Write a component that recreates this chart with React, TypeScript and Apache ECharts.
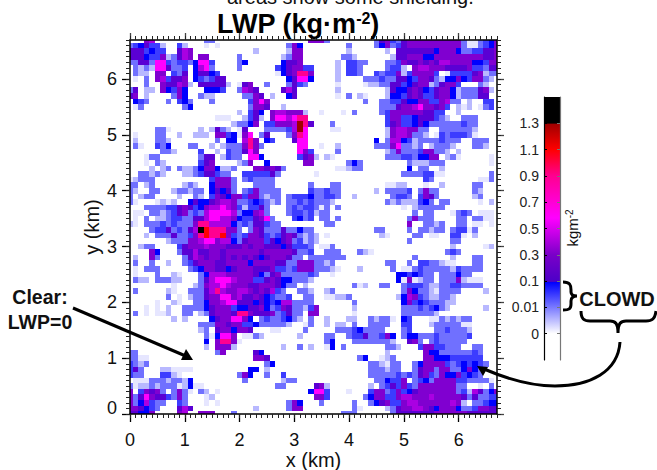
import React, { useEffect, useRef } from "react";
import * as echarts from "echarts";

const FONT = '"Liberation Sans", Arial, sans-serif';

// Cell levels, one letter per 0.1 km, rows from y = 6.7 km (top) to y = 0 km (bottom).
const levelKeys = ".abcdefghijklm";
const levelColors = ["#ffffff","#e6e6ff","#b8b8ff","#7070ff","#3c3cff","#0000ff","#5a00d4","#8000d0","#aa00e2","#ff00ff","#ff0090","#ff0000","#a00000","#000000"];
const rows = [
"...gh..... ....cc.... .......... ...gggc... .....cfgdc fggggggggg gcaacdeg",
"cdefddb..d b...a.a... .........c ge........ c....cegcd fggggggggg gcaacdeg",
"fffdedd..f hg........ ...b.....b gg........ b......b.f ffffffeggg eccddffg",
"fffeddgbcf hg.gg..... c.......bc gg.......c cb......bf fgggeegggg gggggffg",
"ccffciidcd dceiid.... ce......ef fg......b. ddcc...ccd gffgfgfhhg gggeedgg",
".cbcbiifcc d.ehic.... c......def ggdd....b. ddc....cdd b.ghhgggff ffgddcff",
".cbb.gg.dc f.effed... .......aef gjjg....b. ddc..dcddg bdggggd.ad dddfgbcc",
".a.c.ghdff g.edcdff.. .........e fiie....b. ...cccdccf fedggfcbee gedggcb.",
"...c..gffh gb.fffffb. afg..c...c fdc.....a. ...abbccff defggbcfgg d...cb..",
"cf.bb.gedg e...eeed.. chgf....fh f.......b. .......bfe efgfedfgge bcccfgb.",
"fg.b....cg e..cbb.... .ccgf.b..e f.......a. c.ba...bee dfgfddfgge bcccff..",
".edc...c.d ec...c.... ..dgig.... .......... ...c..ccdd feeggddghc c.b..dd.",
".ac....... ce........ ..cggf..b. .......... ......cccf gghiggfgd. bab.acd.",
".......... .......... b.dfe.ghhg ggb..a...a .c....cdgg ggggffdd.. b.......",
".......... ......aaa. .bdfb.giih ijj....... .......dgg ddefffdcb. .ccc....",
".......... .........b cceg.ddggg hljf...c.. .......dfg ddefeccccc cdcc....",
".....cca.. ...b.bfcb. af...ccccd hli....aa. .......bgh hggcc..ccc cccb....",
".a...cc..b ..bbb.ggde agi.cf...c gji....... .......bgh hgccb.adcd ddca....",
".b...ccb.. ......c.ee .hjg.ed... fii....... .....e.chh edbccccdcc c..ccc..",
".ca..dce.. .cc..b.bcc cgjgc..... .ii..a..b. .....cccgi ccbc.bcccb ...ccb..",
"......ccb. ...d..b.dc cfig...... .igd....c. .......bcg cccdggccb. b.......",
"...acc.... ...cff.bdc c.iie..... .dfgb.ba.. .......ccc ddceegg.bc a.....a.",
"...a.cb... ...dfg.... bcg..e.... ..gg...... cec....... .cbbbccc.. ......a.",
"....b.bc.c bbceggebbc ...ggfgfc. ........aa bcc....... .e.cc..b.. ........",
"..ccbcb... bbcdffdcc. .dddddfc.. ....a..... .......... ccccddaa.. ......c.",
"abccc..... .....dgggc .cdcccc... .......... .......... ....dc.... ....aac.",
"cc.bc..... bcb..egggc ...cccc... ...c...cc. .......aab b...a..b.. ...cc...",
"cb..cc..bc cbcc.efefc .cdgcccc.. ...dccdcc. .....b.ccc cd.cgcc... ...cb...",
"c.bcc....b ..cb.dgfeg gdggcbcc.c dddeccddc. .b......cd dc.dgfc... ...bc...",
"ca...abab. .efeefghhg ccdedcbc.c cdcdcccb.. .......cbc bbbdec.cc. ....a.b.",
"...ccccddf gfdeghhihg dbddfc...c dcddcac.c. .......... a.bccccc.. ........",
".aa.ccbcdf gcdchiiiih ceeghc...c ddcdbcc... .......... ..c.cc...a cdc.aaa.",
".a.c.bbcdd ccffhiihhg eddfgic... decd.cc.c. .......... .cgccc.... cc.ccaa.",
"ba.cccdcdc ccgjjhhhhe cdcffdcc.. ......cc.. .......... .g..ccbc.. cc.aa.a.",
"....cddfcd cfhmkjjjgg c.cgfcccfc cecc...... .....cc... .c.ccbcc.c ddac....",
"...b.cccfc cdgjkjjkgd cdggfdcdfg fcbcb.a... ......ba.. ..cc.aa..d da.b....",
".......bcc cgghiighhe cfgggdfefg cdbcb..... .......... .c.......c c.......",
"..bcc....d fggghgggff fgfggfffef dddc.aac.. .......... .........b .....ab.",
"....ge...c ffhffggfgg ggggfggggg fccd..ccc. ..cba..... ........cd c.......",
".b..gc.... cfhgfggfgf gfgfefgggf cc.ccccccc .......... ..c......b ...cc...",
".c..c..b.. cdfgggffgg ggeggggffc cgggccbc.. .......cc. .c.ddccbaa ...cc...",
".a.ccc.... .cdeggffef gggfffgddc dgggcccba. ..b.....c. aacdcccccb dcccc...",
".a...c..ba ...cehhhgg gggfecfgcc cccdc..a.. .........e ededcc.ccc ecc.....",
".cbb.cccbb ...cfhiiih gggddfgfee cccb...... .........e agabcc.ccc gbaaa...",
"........a. ..bcghhihg ggffgggfec c.b....... .cab..cc.. cdddcbbccd dcccc...",
".c.....ba. .cccfhjhgg hhgfgfhdc. .ccb..bc.. .......... cgeccbaccc c....b..",
".......c.a .bccfggiig hffgfedccd ..cc..aabb c........b ehgdcbbccb ........",
".....a..ba ..ccegghii fffefedehh cccc...... .c........ egdedcccbb ........",
"...a.a.b.. ccccefgggd eeffgecdgf ccbdg..... .b........ cccdcdecb. .....b..",
".c.a.aab.. cc.bcfgggf jjgfffgcdf cc.gg..... .a........ ccccccb... ........",
"........b. b....efggi ige.cdccde cb.c..b... bb..cbcca. ed...aacbc bcc.....",
".......... ...cccggfg gddecccccb ..ac..b.bb .c..cccc.. dd...bcccc caa.....",
".......... ...bc.fgge ggf...aa.. ..c.....cc cdecccc... cd....ccdc ccb.....",
".......... ....caeiig .aacb..... .b....cc.. cddfccdge. ceecccdccc ccd.....",
".......... ....e.gjjg a......... ......ce.. .cccccccb. .fgc.cdccc cc......",
".......... ....b.gggb ........b. .c.b..ae.c .......ccb ...dggddcc c..cc...",
"cc........ ......cg.. ...fe..... .......... .......b.. ....geeccc cccdc...",
"ccaa...... .......... ...ggf.... .......... ..ce..abc. ....ggeeed ddddd...",
"dcbc...... .......... .....ce... .......... ....ccbacc ..ceggggdc dededc..",
"dfc...bbaa aa........ ..ee.b.... .......... ....cccbcc ..cfggcggc cegec...",
"dcc...ddba .......... cge..c..d. .......... ....cccccd cdcfgdcgee gdedc...",
".aaacccbcc be........ .c......bc c......... .....ccedd g.cdecgggg ddcccca.",
"cabbcbccca beaa...... .......cc. ....fgb... ....b.cdfd gdcggggggg cc..a.c.",
"g.dgfgc.cg ca.cb.a... .......... ...eiid... a...dggcdg defggggggg cdbhfceg",
"gcfigffdcg c...ab.... .......... ....ggd... ...ceggddg hhggghgggg gfcfccdd",
"gcehdcc..d c...a.a... .........c ge...c.... .c..cefgdd ghhggggggh gb.ccdee",
"ggfedc...f hf........ ...b.....c gg........ .ca....bcf gghhgfeggg eccdggff",
"ffeeg....g h..ggg...c .......... .........c cc......cf ffffffgggg ggffffff",
];

const xLabels = [0, 1, 2, 3, 4, 5, 6];
const yLabels = [0, 1, 2, 3, 4, 5, 6];
const barTickLabels = ["0", "0.01", "0.1", "0.3", "0.5", "0.7", "0.9", "1.1", "1.3"];
const barTickPositions = [0, 1, 2, 3, 4, 5, 6, 7, 8];
const barStopPositions = [-1, 0, 1, 1.95, 1.98, 3, 4.4, 6, 7, 7.98, 8, 9];
const barStopColors = ["#ffffff","#ffffff","#7a7aff","#0000ff","#4c00c8","#7a00c8","#ff00ff","#ff0090","#ff0000","#a00000","#000000","#000000"];

echarts.graphic.registerShape("braceV", echarts.graphic.extendPath(
  "M563 282 C570 282 571 285 571 290 L571 292 C571 295 573 296 577 296 C573 296 571 298 571 301 L571 304 C571 309 569 310 563 310", {}));
echarts.graphic.registerShape("braceH", echarts.graphic.extendPath(
  "M581 311 C581 319 584 321 590 321 L610 321 C615 321 618 323 618 333 C618 323 621 321 626 321 L646 321 C652 321 655 319 656 311", {}));
echarts.graphic.registerShape("curveArrow", echarts.graphic.extendPath(
  "M620 342 C618 372 590 386 555 386 C530 386 505 378 484 369", {}));

const cells: number[][] = [];
rows.forEach((row, r) => {
  const chars = row.replace(/ /g, "");
  for (let c = 0; c < chars.length; c++) {
    const level = levelKeys.indexOf(chars[c]);
    if (level > 0) cells.push([c / 10, (rows.length - 1 - r) / 10, level]);
  }
});

const majorAxis = (dim: "x" | "y", position: string, labels: number[], showLabels: boolean) => ({
  type: "value", gridIndex: 0, position, min: 0, max: 6.7, z: 5,
  splitLine: { show: false },
  axisLine: { show: true, onZero: false, lineStyle: { color: "#000", width: 1.5 } },
  axisTick: { show: true, length: showLabels ? 8 : 7, customValues: labels, lineStyle: { color: showLabels ? "#000" : "#444", width: 1.3 } },
  axisLabel: {
    show: showLabels, customValues: labels, margin: dim === "x" ? 17 : 13,
    fontFamily: FONT, fontSize: 18, color: "#111",
    formatter: (v: number) => (dim === "y" && v === 0 ? "{z|0}" : String(v)),
    rich: { z: { fontFamily: FONT, fontSize: 18, color: "#111", padding: [0, 0, 12, 0] } },
  },
});
const minorAxis = (position: string) => ({
  type: "value", gridIndex: 0, position, min: 0, max: 6.7, interval: 0.1, z: 5,
  splitLine: { show: false },
  axisLine: { show: false, onZero: false },
  axisTick: { show: true, length: 4, lineStyle: { color: "#222", width: 1 } },
  axisLabel: { show: false },
});

const barAxis = (position: string, lineColor: string, showLabels: boolean) => ({
  type: "value", gridIndex: 1, position, min: -1, max: 9, z: 5,
  splitLine: { show: false },
  axisLine: { show: true, onZero: false, lineStyle: { color: lineColor, width: 1.2 } },
  axisTick: { show: true, inside: true, length: 3, customValues: barTickPositions, lineStyle: { color: lineColor, width: 1 } },
  axisLabel: {
    show: showLabels, customValues: barTickPositions, margin: 5,
    fontFamily: FONT, fontSize: 14, color: "#222",
    formatter: (v: number) => barTickLabels[barTickPositions.indexOf(v)] ?? "",
  },
});

export default function App() {
  const ref = useRef<HTMLDivElement>(null);
  useEffect(() => {
    const chart = echarts.init(ref.current!, undefined, { renderer: "svg" });
    const black = { stroke: "#000", lineWidth: 3, fill: "none" };
    chart.setOption({
      animation: false,
      title: {
        text: "{a|LWP (kg·m}{s|-2}{a|)}", left: 293, top: 5, textAlign: "center",
        textStyle: {
          rich: {
            a: { fontFamily: FONT, fontWeight: "bold", fontSize: 27, color: "#000" },
            s: { fontFamily: FONT, fontWeight: "bold", fontSize: 16, color: "#000", padding: [0, 0, 10, 0] },
          },
        },
      },
      grid: [
        { left: 130, top: 40, width: 367, height: 374, outerBoundsMode: "none" },
        { left: 544, top: 97, width: 16, height: 263, outerBoundsMode: "none" },
      ],
      xAxis: [
        { ...majorAxis("x", "bottom", xLabels, true), name: "x (km)", nameLocation: "middle", nameGap: 36, nameMoveOverlap: false, nameTextStyle: { fontFamily: FONT, fontSize: 20, color: "#111" } },
        minorAxis("bottom"),
        majorAxis("x", "top", xLabels, false),
        minorAxis("top"),
        { type: "value", gridIndex: 1, min: 0, max: 1, show: false },
      ],
      yAxis: [
        { ...majorAxis("y", "left", yLabels, true), name: "y (km)", nameLocation: "middle", nameGap: 28, nameMoveOverlap: false, nameTextStyle: { fontFamily: FONT, fontSize: 20, color: "#111" } },
        minorAxis("left"),
        majorAxis("y", "right", yLabels, false),
        minorAxis("right"),
        barAxis("left", "#000", true),
        barAxis("right", "#777", false),
      ],
      series: [
        {
          type: "custom", xAxisIndex: 0, yAxisIndex: 0, coordinateSystem: "cartesian2d",
          clip: true, progressive: 0, silent: true,
          encode: { x: 0, y: 1 }, data: cells,
          renderItem: (_: any, api: any) => {
            const x = api.value(0), y = api.value(1);
            const a = api.coord([x - 0.05, y + 0.05]);
            const b = api.coord([x + 0.05, y - 0.05]);
            const x0 = Math.round(a[0]), y0 = Math.round(a[1]);
            return {
              type: "rect",
              shape: { x: x0, y: y0, width: Math.round(b[0]) - x0, height: Math.round(b[1]) - y0 },
              style: { fill: levelColors[api.value(2)] },
            };
          },
        },
        {
          type: "custom", xAxisIndex: 4, yAxisIndex: 4, coordinateSystem: "cartesian2d",
          clip: true, silent: true,
          encode: { x: 0, y: 1 }, data: [[0, barStopPositions[barStopPositions.length - 1]]],
          renderItem: (_: any, api: any) => {
            const first = barStopPositions[0];
            const last = barStopPositions[barStopPositions.length - 1];
            const a = api.coord([0, last]);
            const b = api.coord([1, first]);
            return {
              type: "rect",
              shape: { x: a[0], y: a[1], width: b[0] - a[0], height: b[1] - a[1] },
              style: {
                fill: new echarts.graphic.LinearGradient(0, 1, 0, 0,
                  barStopPositions.map((p, i) => ({ offset: (p - first) / (last - first), color: barStopColors[i] }))),
              },
            };
          },
        },
      ],
      graphic: [
        { type: "text", x: 227, y: 7, z: 100, style: { text: "areas show some shielding.", fontFamily: FONT, fontSize: 20, fill: "#111", align: "left", verticalAlign: "bottom" } },
        { type: "text", x: 572, y: 228, z: 100, rotation: Math.PI / 2, style: { text: "{a|kgm}{s|-2}", align: "center", verticalAlign: "middle", rich: { a: { fontFamily: FONT, fontSize: 15, fill: "#111" }, s: { fontFamily: FONT, fontSize: 10, fill: "#111", padding: [0, 0, 6, 0] } } } },
        { type: "text", x: 40, y: 297, z: 100, style: { text: "Clear:", fontFamily: FONT, fontWeight: "bold", fontSize: 19.5, fill: "#111", align: "center", verticalAlign: "middle" } },
        { type: "text", x: 40, y: 322, z: 100, style: { text: "LWP=0", fontFamily: FONT, fontWeight: "bold", fontSize: 19.5, fill: "#111", align: "center", verticalAlign: "middle" } },
        { type: "text", x: 617, y: 299, z: 100, style: { text: "CLOWD", fontFamily: FONT, fontWeight: "bold", fontSize: 20, fill: "#111", align: "center", verticalAlign: "middle" } },
        { type: "line", z: 100, shape: { x1: 73, y1: 308, x2: 188, y2: 357 }, style: { stroke: "#000", lineWidth: 3 } },
        { type: "polygon", z: 100, shape: { points: [[193, 360], [181, 360], [186, 349]] }, style: { fill: "#000" } },
        { type: "braceV", z: 100, style: black },
        { type: "braceH", z: 100, style: black },
        { type: "curveArrow", z: 100, style: black },
        { type: "polygon", z: 100, shape: { points: [[477, 366], [488, 367], [483, 376]] }, style: { fill: "#000" } },
      ],
    });
    return () => chart.dispose();
  }, []);
  return <div ref={ref} style={{ position: "absolute", left: 0, top: 0, width: 657, height: 470 }} />;
}
